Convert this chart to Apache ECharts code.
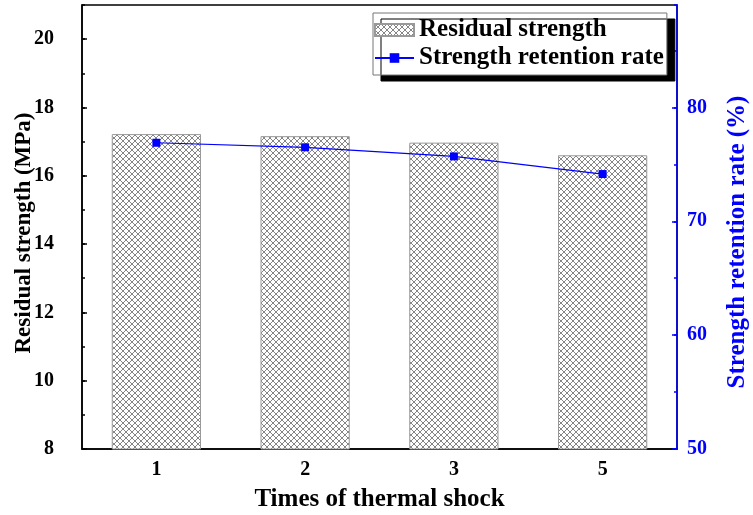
<!DOCTYPE html>
<html>
<head>
<meta charset="utf-8">
<script src="https://cdn.jsdelivr.net/npm/echarts@6/dist/echarts.min.js"></script>
<style>
  html, body { margin: 0; padding: 0; background: #fff; }
  #chart { width: 753px; height: 515px; }
</style>
</head>
<body>
<div id="chart"></div>
<script>
// --- data ---
const shockTimes = ['1', '2', '3', '5'];
const residualStrength = [17.22, 17.16, 16.97, 16.6];   // MPa
const retentionRate = [76.9, 76.5, 75.7, 74.15];        // %

const FONT = 'Liberation Serif';
const BLUE = '#0000ff';

// cross-hatch tile for the bars
function hatch() {
  const c = document.createElement('canvas');
  c.width = 6; c.height = 6;
  const g = c.getContext('2d');
  g.fillStyle = '#fff';
  g.fillRect(0, 0, 6, 6);
  g.strokeStyle = '#666';
  g.lineWidth = 0.8;
  g.beginPath();
  g.moveTo(0, 0); g.lineTo(6, 6);
  g.moveTo(6, 0); g.lineTo(0, 6);
  g.stroke();
  return c;
}

const chart = echarts.init(document.getElementById('chart'), null, { renderer: 'canvas' });

const tickLabel = { fontFamily: FONT, fontWeight: 'bold', fontSize: 20, color: '#000' };
const axisName = { fontFamily: FONT, fontWeight: 'bold', color: '#000' };

chart.setOption({
  animation: false,
  backgroundColor: '#fff',
  grid: {
    left: 82, right: 76, top: 5, bottom: 66,
    outerBoundsMode: 'none',
    show: true, borderColor: '#000', borderWidth: 1.5, backgroundColor: 'transparent'
  },
  legend: {
    orient: 'vertical',
    left: 373, top: 13,
    padding: [3, 3, 3, 1],
    itemGap: 0,
    itemWidth: 39, itemHeight: 12,
    backgroundColor: '#fff',
    borderColor: '#777', borderWidth: 1,
    shadowColor: '#000', shadowOffsetX: 8, shadowOffsetY: 6, shadowBlur: 0,
    textStyle: { fontFamily: FONT, fontWeight: 'bold', fontSize: 25, color: '#000', lineHeight: 28 },
    data: [
      { name: 'Residual strength', icon: 'rect' },
      { name: 'Strength retention rate' }
    ]
  },
  xAxis: [
    {
      type: 'category', data: shockTimes,
      name: 'Times of thermal shock', nameLocation: 'middle', nameGap: 38, nameMoveOverlap: false,
      nameTextStyle: Object.assign({ fontSize: 25 }, axisName),
      axisLine: { lineStyle: { color: '#000', width: 1.5 } },
      axisTick: { alignWithLabel: true, inside: true, length: 5, lineStyle: { color: '#000', width: 1.5 } },
      axisLabel: Object.assign({ margin: 11 }, tickLabel)
    },
    {
      type: 'category', data: shockTimes, position: 'bottom',
      axisLine: { show: false },
      axisTick: { inside: true, length: 3, lineStyle: { color: '#000', width: 1.5 } },
      axisLabel: { show: false }
    }
  ],
  yAxis: [
    {
      type: 'value', min: 8, max: 21, interval: 2, position: 'left',
      name: 'Residual strength (MPa)', nameLocation: 'middle', nameGap: 46, nameMoveOverlap: false,
      nameTextStyle: Object.assign({ fontSize: 23, padding: [0, 12, 0, 0] }, axisName),
      axisLine: { show: true, lineStyle: { color: '#000', width: 1.5 } },
      axisTick: { show: true, inside: true, length: 5, lineStyle: { color: '#000', width: 1.5 } },
      axisLabel: Object.assign({ margin: 28, showMaxLabel: false }, tickLabel),
      splitLine: { show: false }
    },
    {
      type: 'value', min: 50, max: 89, interval: 10, position: 'right',
      name: 'Strength retention rate (%)', nameLocation: 'middle', nameGap: 48, nameMoveOverlap: false,
      nameTextStyle: Object.assign({ fontSize: 25, padding: [0, 30, 0, 0] }, axisName, { color: BLUE }),
      axisLine: { show: true, lineStyle: { color: BLUE, width: 1.5 } },
      axisTick: { show: true, inside: true, length: 5, lineStyle: { color: BLUE, width: 1.5 } },
      axisLabel: Object.assign({ margin: 10, showMaxLabel: false }, tickLabel, { color: BLUE }),
      splitLine: { show: false }
    },
    {
      type: 'value', min: 8, max: 21, interval: 1, position: 'left',
      axisLine: { show: false },
      axisTick: { show: true, inside: true, length: 3, lineStyle: { color: '#000', width: 1.5 } },
      axisLabel: { show: false }, splitLine: { show: false }
    },
    {
      type: 'value', min: 50, max: 89, interval: 5, position: 'right',
      axisLine: { show: false },
      axisTick: { show: true, inside: true, length: 3, lineStyle: { color: BLUE, width: 1.5 } },
      axisLabel: { show: false }, splitLine: { show: false }
    }
  ],
  series: [
    {
      name: 'Residual strength', type: 'bar',
      xAxisIndex: 0, yAxisIndex: 0,
      data: residualStrength, barWidth: '60%',
      itemStyle: { color: { image: hatch(), repeat: 'repeat' }, borderColor: '#999', borderWidth: 1 }
    },
    {
      name: 'Strength retention rate', type: 'line',
      xAxisIndex: 0, yAxisIndex: 1,
      data: retentionRate,
      symbol: 'rect', symbolSize: 8,
      lineStyle: { color: BLUE, width: 1.2 },
      itemStyle: { color: BLUE }
    }
  ]
});
</script>
</body>
</html>
